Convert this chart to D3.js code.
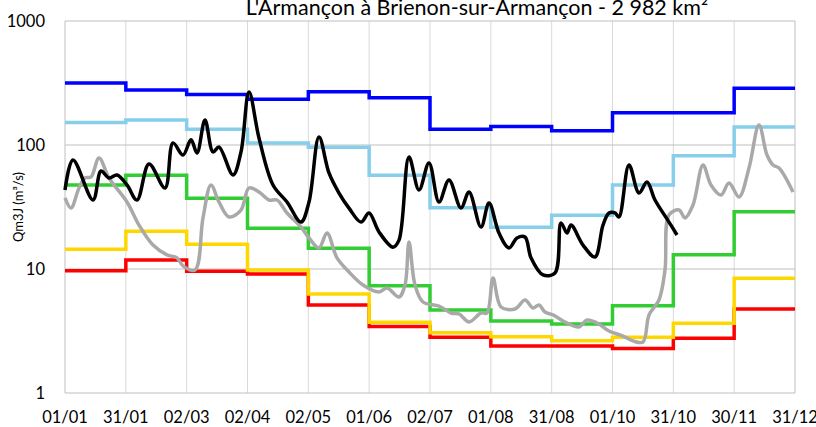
<!DOCTYPE html>
<html>
<head>
<meta charset="utf-8">
<script src="https://cdn.jsdelivr.net/npm/d3@7"></script>
<style>
  body { margin: 0; background: #fff; }
  svg { font-family: Lato, "Open Sans", sans-serif; }
</style>
</head>
<body>
<svg id="chart" width="816" height="427"></svg>
<script>
// axis labels
const tickLabels = ["01/01", "31/01", "02/03", "02/04", "02/05", "01/06", "02/07",
                    "01/08", "31/08", "01/10", "31/10", "30/11", "31/12"];
const yTicks = [1, 10, 100, 1000];

// monthly step series (m3/s), one value per month
const blueSteps   = [316, 278, 256, 234, 269, 241, 134, 141, 130, 182, 182, 287];
const skySteps    = [152, 159, 134, 104, 96, 57, 31.2, 21.7, 27.1, 47.6, 82, 140];
const greenSteps  = [47.6, 57, 37.2, 21.3, 14.7, 7.33, 4.67, 3.81, 3.6, 5.06, 13, 29];
const yellowSteps = [14.4, 20.2, 15.8, 9.8, 6.29, 3.72, 3.06, 2.84, 2.64, 2.81, 3.65, 8.41];
const redSteps    = [9.69, 11.8, 9.6, 9.12, 5.13, 3.43, 2.81, 2.39, 2.39, 2.29, 2.76, 4.76];

// current year (black), day of year / daily flow
const blackDays = [0, 4, 14, 18, 22, 26, 31, 36, 42, 50, 54, 59, 63, 66, 70, 74, 77, 84, 88, 92,
  97, 104, 111, 118, 122, 127, 132, 137, 142, 148, 152, 157, 164, 167, 172, 177, 182, 187, 192,
  198, 202, 208, 212, 217, 222, 226, 230, 233, 239, 245, 248, 251, 253, 259, 265, 269, 272, 275,
  277, 282, 287, 291, 295, 302, 306];
const blackVals = [43.4, 75.7, 36.0, 61.7, 54.2, 57.3, 47.6, 36.0, 70.3, 45.0, 104, 83.0, 110, 86.2,
  159, 87.9, 96.4, 57.3, 87.9, 267, 114, 47.6, 34.7, 23.9, 34.7, 116, 59.5, 41.0, 31.0, 23.9, 28.3,
  19.9, 15.0, 17.1, 80.0, 43.4, 71.6, 34.7, 52.2, 31.0, 41.8, 21.8, 34.1, 19.5, 14.8, 17.8, 18.1,
  12.3, 8.95, 9.29, 23.5, 19.5, 22.6, 15.6, 12.5, 22.6, 28.3, 28.3, 26.3, 69.0, 41.0, 50.3, 36.0,
  23.9, 18.8];

// previous year (grey)
const greyDays = [0, 3, 7, 10, 13, 17, 22, 31, 37, 44, 51, 56, 59, 65, 69, 73, 77, 82, 88, 92, 97,
  102, 106, 111, 118, 122, 127, 131, 136, 142, 149, 157, 161, 167, 170, 172, 175, 179, 187, 193, 197,
  202, 208, 211, 214, 218, 225, 230, 234, 237, 240, 244, 251, 257, 261, 266, 272, 279, 284, 289, 292,
  297, 300, 302, 307, 310, 314, 319, 323, 328, 332, 337, 342, 347, 351, 354, 357, 364];
const greyVals = [37.4, 31.0, 45.0, 54.2, 55.2, 78.5, 54.2, 34.7, 22.6, 15.6, 13.0, 12.3, 10.6, 9.82,
  25.8, 47.6, 34.7, 26.3, 29.9, 45.0, 41.8, 36.0, 36.0, 28.3, 21.8, 17.8, 14.8, 19.5, 12.3, 9.46,
  7.43, 6.53, 7.03, 5.95, 7.43, 16.5, 7.43, 5.42, 5.03, 4.42, 4.34, 3.74, 4.42, 4.42, 8.46, 4.94,
  4.76, 5.62, 4.85, 5.12, 4.50, 4.26, 3.67, 3.41, 3.88, 3.67, 3.16, 2.88, 2.63, 2.58, 4.26, 5.62,
  9.82, 27.3, 29.9, 25.8, 32.8, 69.0, 47.6, 39.5, 49.4, 38.1, 65.3, 145, 83.0, 69.0, 65.3, 41.8];

const svg = d3.select("#chart");
const plotLeft = 65, plotRight = 795, plotTop = 21, plotBottom = 393;

const x = d3.scaleLinear().domain([0, 365]).range([plotLeft, plotRight]);
const y = d3.scaleLog().domain([1, 1000]).range([plotBottom, plotTop]);
const tickDays = tickLabels.map((d, i) => i * 365 / 12);

// grid
svg.append("g").selectAll("line")
  .data(tickDays.slice(1, -1))
  .enter().append("line")
  .attr("x1", d => x(d)).attr("x2", d => x(d))
  .attr("y1", plotTop).attr("y2", plotBottom)
  .attr("stroke", "#d9d9d9").attr("stroke-width", 1);

svg.append("g").selectAll("line")
  .data(yTicks)
  .enter().append("line")
  .attr("x1", plotLeft).attr("x2", plotRight)
  .attr("y1", d => y(d)).attr("y2", d => y(d))
  .attr("stroke", "#bfbfbf").attr("stroke-width", 1);

svg.append("line").attr("x1", plotLeft).attr("x2", plotLeft).attr("y1", plotTop).attr("y2", plotBottom)
  .attr("stroke", "#bfbfbf");
svg.append("line").attr("x1", plotRight).attr("x2", plotRight).attr("y1", plotTop).attr("y2", plotBottom)
  .attr("stroke", "#bfbfbf");

// step series
const stepLine = d3.line()
  .x(d => x(d[0])).y(d => y(d[1]))
  .curve(d3.curveStepAfter);

const steps = [
  {vals: redSteps, color: "#ff0000"},
  {vals: yellowSteps, color: "#ffd700"},
  {vals: greenSteps, color: "#32cd32"},
  {vals: skySteps, color: "#87ceeb"},
  {vals: blueSteps, color: "#0000ff"}
];

steps.forEach(s => {
  const pts = s.vals.map((v, i) => [tickDays[i], v]);
  pts.push([365, s.vals[s.vals.length - 1]]);
  svg.append("path")
    .datum(pts)
    .attr("d", stepLine)
    .attr("fill", "none")
    .attr("stroke", s.color)
    .attr("stroke-width", 3.5);
});

// daily curves
const smooth = d3.line()
  .x(d => x(d[0])).y(d => y(d[1]))
  .curve(d3.curveCatmullRom.alpha(0.5));

svg.append("path")
  .datum(d3.zip(greyDays, greyVals))
  .attr("d", smooth)
  .attr("fill", "none")
  .attr("stroke", "#a9a9a9")
  .attr("stroke-width", 3.5)
  .attr("stroke-linejoin", "round");

svg.append("path")
  .datum(d3.zip(blackDays, blackVals))
  .attr("d", smooth)
  .attr("fill", "none")
  .attr("stroke", "#000")
  .attr("stroke-width", 3.5)
  .attr("stroke-linejoin", "round");

// labels
svg.append("g").selectAll("text")
  .data(yTicks)
  .enter().append("text")
  .attr("x", plotLeft - 20)
  .attr("y", d => y(d))
  .attr("dy", "0.36em")
  .attr("text-anchor", "end")
  .attr("font-size", 16.5)
  .attr("fill", "#000")
  .text(d => d);

svg.append("g").selectAll("text")
  .data(tickLabels)
  .enter().append("text")
  .attr("x", (d, i) => x(tickDays[i]))
  .attr("y", 423)
  .attr("text-anchor", "middle")
  .attr("font-size", 16.5)
  .attr("fill", "#000")
  .text(d => d);

svg.append("text")
  .attr("transform", "translate(23,207) rotate(-90)")
  .attr("text-anchor", "middle")
  .attr("font-size", 13)
  .attr("fill", "#000")
  .text("Qm3J (m³/s)");

svg.append("text")
  .attr("x", 477)
  .attr("y", 15)
  .attr("text-anchor", "middle")
  .attr("font-size", 21.5)
  .attr("fill", "#000")
  .text("L'Armançon à Brienon-sur-Armançon - 2 982 km²");
</script>
</body>
</html>
